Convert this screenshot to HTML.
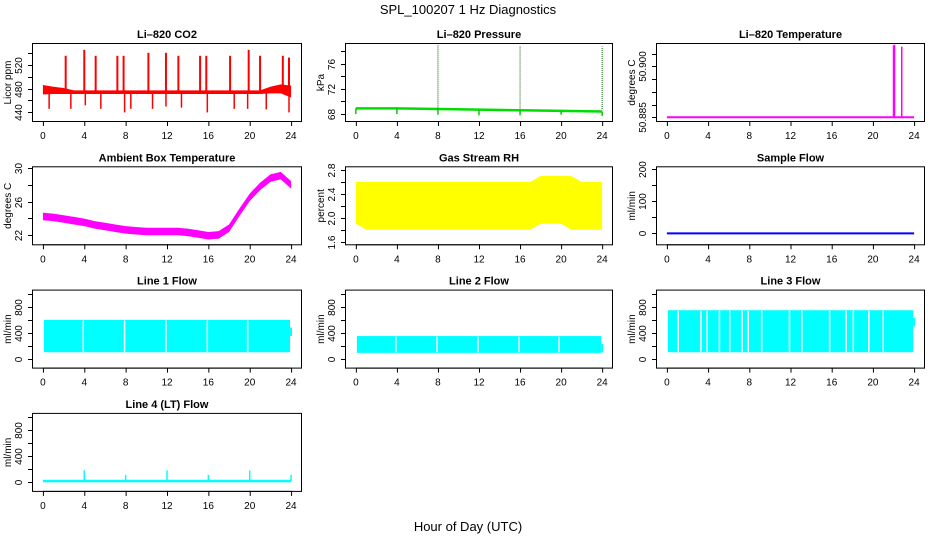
<!DOCTYPE html>
<html><head><meta charset="utf-8">
<style>
html,body{margin:0;padding:0;background:#fff;}
svg{display:block;font-family:"Liberation Sans",Arial,sans-serif;}
</style></head>
<body>
<svg id="fig" width="936" height="540" viewBox="0 0 936 540" xmlns="http://www.w3.org/2000/svg">
<rect x="0" y="0" width="936" height="540" fill="#fff"/>
<text x="468" y="14" font-size="13" text-anchor="middle">SPL_100207  1 Hz Diagnostics</text>
<text x="468" y="531" font-size="13" text-anchor="middle">Hour of Day (UTC)</text>
</svg>
<script>
// ---- data ----
var hours = [0,1,2,3,4,5,6,7,8,9,10,11,12,13,14,15,16,17,18,19,20,21,22,23,24];
var xTicks = [0,4,8,12,16,20,24];
var co2High = [486,483,481,477,477,477,477,477,477,477,477,477,477,477,477,477,477,477,477,477,477,477,483,487,485];
var co2Low  = [470,471,471,471,471,471,471,471,471,471,471,471,471,471,471,471,471,471,471,471,471,471,472,472,465];
var co2UpH = [2.2,4.0,5.1,7.2,7.8,10.2,11.9,13.1,15.2,15.8,18.1,19.9,21.0,23.2,23.8];
var co2UpV = [535,545,535,535,535,540,540,535,535,535,535,545,535,535,532];
var co2DnH = [0.6,2.7,4.1,5.6,7.9,8.5,10.6,11.9,13.4,15.9,18.5,19.8,21.6,23.8];
var co2DnV = [446,446,452,446,440,446,446,450,448,440,446,446,445,440];
var presH = [0,4,8,12,16,20,24];
var presV = [68.9,68.9,68.8,68.7,68.6,68.5,68.4];
var presDip = [68.0,68.0,67.9,67.8,67.8,67.9,67.7];
var presSpikeH = [8,16,24];
var presSpikeV = [79.0,78.8,78.7];
var tempSpikeH = [22.0,22.1,22.8];
var tempSpikeV = [50.9062,50.9064,50.9058];
var tempBase = 50.885;
var ambMid = [24.2,24.1,23.9,23.7,23.5,23.2,23.0,22.8,22.6,22.5,22.4,22.4,22.4,22.4,22.3,22.1,21.9,22.0,22.8,24.7,26.5,27.8,28.8,29.1,28.0];
var rhHigh = [2.6,2.6,2.6,2.6,2.6,2.6,2.6,2.6,2.6,2.6,2.6,2.6,2.6,2.6,2.6,2.6,2.6,2.6,2.7,2.7,2.7,2.7,2.6,2.6,2.6];
var rhLow  = [1.9,1.8,1.8,1.8,1.8,1.8,1.8,1.8,1.8,1.8,1.8,1.8,1.8,1.8,1.8,1.8,1.8,1.8,1.9,1.9,1.9,1.8,1.8,1.8,1.8];
var sampleFlow = 0;
var l1Top = 600, l1Bot = 100, l1Gaps = [3.9,7.9,11.9,15.9,19.8];
var l2Top = 350, l2Bot = 90, l2Gaps = [3.9,7.9,11.9,15.9,19.8];
var l3Top = 750, l3Bot = 100, l3Gaps = [1.1,3.3,3.9,5.1,6.1,7.3,7.9,9.2,11.9,13.1,15.8,17.4,18.1,19.6,21.0];
var l4Base = 15, l4SpikeH = [4,8,12,16,20,24], l4SpikeV = [180,110,180,110,180,110];

var NS = "http://www.w3.org/2000/svg";
var svg = document.getElementById('fig');
function mk(parent, tag, attrs, name){
  var el = document.createElementNS(NS, tag);
  for (var k in attrs) el.setAttribute(k, attrs[k]);
  
  
  parent.appendChild(el);
  return el;
}
var colL = [33, 346, 657], colR = [301, 612, 924];
function panel(c, r, title, ylab, ylim, yticks, ylabels, key){
  var L = colL[c], R = colR[c], T = 44 + r*123.3, B = T + 77;
  var g = document.createElementNS(NS, 'g');
  
  
  svg.appendChild(g);
  var p = {g:g, L:L, R:R, T:T, B:B,
    X:function(h){ return L + (h + 0.96) / 25.92 * (R - L); },
    Y:function(v){ return B - (v - ylim[0]) / (ylim[1] - ylim[0]) * (B - T); }};
  mk(g, 'text', {x:(L+R)/2, y:T-6, 'font-size':11, 'font-weight':'bold', 'text-anchor':'middle'}, key + '-title').textContent = title;
  mk(g, 'line', {x1:p.X(0), x2:p.X(24), y1:B+0.5, y2:B+0.5, stroke:'#000'}, key + '-x-axis');
  xTicks.forEach(function(t){
    mk(g, 'line', {x1:p.X(t)+0.5, x2:p.X(t)+0.5, y1:B, y2:B+5, stroke:'#000'}, key + '-x-tick');
    mk(g, 'text', {x:p.X(t), y:B+18, 'font-size':10, 'text-anchor':'middle'}, key + '-x-tick-label').textContent = String(t);
  });
  mk(g, 'line', {x1:L-0.5, x2:L-0.5, y1:p.Y(yticks[0]), y2:p.Y(yticks[yticks.length-1]), stroke:'#000'}, key + '-y-axis');
  yticks.forEach(function(t, i){
    var y = Math.round(p.Y(t)) + 0.5;
    mk(g, 'line', {x1:L-5, x2:L, y1:y, y2:y, stroke:'#000'}, key + '-y-tick');
    if (ylabels[i]) {
      var tx = mk(g, 'text', {x:0, y:0, 'font-size':10, 'text-anchor':'middle', transform:'translate(' + (L-11) + ',' + y + ') rotate(-90)'}, key + '-y-tick-label');
      tx.textContent = ylabels[i];
    }
  });
  mk(g, 'text', {x:0, y:0, 'font-size':10, 'text-anchor':'middle', transform:'translate(' + (L-22) + ',' + ((T+B)/2) + ') rotate(-90)'}, key + '-y-axis-title').textContent = ylab;
  var cp = mk(g, 'clipPath', {id:'clip-' + key}, key + '-clip');
  mk(cp, 'rect', {x:L, y:T, width:R-L, height:B-T}, key + '-clip-rect');
  p.d = mk(g, 'g', {'clip-path':'url(#clip-' + key + ')'}, key + '-plot-area');
  p.box = function(){ mk(g, 'rect', {x:L-0.5, y:T-0.5, width:R-L+1, height:B-T+1, fill:'none', stroke:'#000'}, key + '-plot-box'); };
  return p;
}
function band(p, hi, lo, color, name){
  var pts = [];
  hours.forEach(function(h, i){ pts.push(p.X(h) + ',' + p.Y(hi[i])); });
  for (var i = hours.length - 1; i >= 0; i--) pts.push(p.X(hours[i]) + ',' + p.Y(lo[i]));
  mk(p.d, 'polygon', {points:pts.join(' '), fill:color}, name);
}
function vline(p, h, v0, v1, color, w, name, dash){
  var a = {x1:p.X(h), x2:p.X(h), y1:p.Y(v0), y2:p.Y(v1), stroke:color, 'stroke-width':w};
  if (dash) a['stroke-dasharray'] = dash;
  mk(p.d, 'line', a, name);
}

var p1 = panel(0, 0, 'Li\u2013820 CO2', 'Licor ppm', [425.6, 554.8], [440,460,480,500,520,540], ['440','','480','','520',''], 'co2');
band(p1, co2High, co2Low, '#ff0000', 'co2-band');
co2UpH.forEach(function(h, i){ vline(p1, h, 474, co2UpV[i], '#ff0000', 2, 'co2-spike-up'); });
co2DnH.forEach(function(h, i){ vline(p1, h, 474, co2DnV[i], '#ff0000', 1.5, 'co2-spike-down'); });
p1.box();

var p2 = panel(1, 0, 'Li\u2013820 Pressure', 'kPa', [66.9, 79.1], [68,70,72,74,76,78], ['68','','72','','76',''], 'pressure');
var pp = presH.map(function(h, i){ return p2.X(h) + ',' + p2.Y(presV[i]); }).join(' ');
mk(p2.d, 'polyline', {points:pp, fill:'none', stroke:'#00dd00', 'stroke-width':2.5}, 'pressure-line');
presH.forEach(function(h, i){ vline(p2, h, presV[i], presDip[i], '#00cc00', 1.5, 'pressure-dip'); });
presSpikeH.forEach(function(h, i){ vline(p2, h, presV[i], presSpikeV[i], '#006600', 1, 'pressure-spike', '1,1'); });
p2.box();

var p3 = panel(2, 0, 'Li\u2013820 Temperature', 'degrees C', [50.8839, 50.9066], [50.885,50.88875,50.8925,50.89625,50.900,50.90375], ['50.885','','','','50.900',''], 'li-temp');
mk(p3.d, 'line', {x1:p3.X(0), x2:p3.X(24), y1:p3.Y(tempBase), y2:p3.Y(tempBase), stroke:'#ff00ff', 'stroke-width':2}, 'li-temp-line');
tempSpikeH.forEach(function(h, i){ vline(p3, h, tempBase, tempSpikeV[i], '#ff00ff', 1.5, 'li-temp-spike'); });
p3.box();

var p4 = panel(0, 1, 'Ambient Box Temperature', 'degrees C', [20.87, 30.1], [22,24,26,28,30], ['22','','26','','30'], 'ambient');
band(p4, ambMid.map(function(v){ return v + 0.45; }), ambMid.map(function(v){ return v - 0.45; }), '#ff00ff', 'ambient-band');
p4.box();

var p5 = panel(1, 1, 'Gas Stream RH', 'percent', [1.556, 2.846], [1.6,1.8,2.0,2.2,2.4,2.6,2.8], ['1.6','','2.0','','2.4','','2.8'], 'rh');
band(p5, rhHigh, rhLow, '#ffff00', 'rh-band');
p5.box();

var p6 = panel(2, 1, 'Sample Flow', 'ml/min', [-34, 206], [0,50,100,150,200], ['0','','100','','200'], 'sample-flow');
mk(p6.d, 'line', {x1:p6.X(0), x2:p6.X(24), y1:p6.Y(sampleFlow), y2:p6.Y(sampleFlow), stroke:'#0000ff', 'stroke-width':2}, 'sample-flow-line');
p6.box();

function flowPanel(c, r, title, key, top, bot, gaps){
  var p = panel(c, r, title, 'ml/min', [-138, 1054], [0,200,400,600,800,1000], ['0','','400','','800',''], key);
  mk(p.d, 'rect', {x:p.X(0.1), y:p.Y(top), width:p.X(23.9)-p.X(0.1), height:p.Y(bot)-p.Y(top), fill:'#00ffff'}, key + '-band');
  gaps.forEach(function(h){ vline(p, h, top - 10, bot + 10, '#ffffff', 1.5, key + '-gap'); });
  vline(p, 24, top - 120, top - 250, '#00ffff', 2, key + '-end');
  p.box();
  return p;
}
flowPanel(0, 2, 'Line 1 Flow', 'line1-flow', l1Top, l1Bot, l1Gaps);
flowPanel(1, 2, 'Line 2 Flow', 'line2-flow', l2Top, l2Bot, l2Gaps);
flowPanel(2, 2, 'Line 3 Flow', 'line3-flow', l3Top, l3Bot, l3Gaps);

var p10 = panel(0, 3, 'Line 4 (LT) Flow', 'ml/min', [-138, 1054], [0,200,400,600,800,1000], ['0','','400','','800',''], 'line4-flow');
mk(p10.d, 'line', {x1:p10.X(0), x2:p10.X(24), y1:p10.Y(l4Base), y2:p10.Y(l4Base), stroke:'#00ffff', 'stroke-width':2.5}, 'line4-flow-line');
l4SpikeH.forEach(function(h, i){ vline(p10, h, l4Base, l4SpikeV[i], '#00ffff', 1.5, 'line4-flow-spike'); });
p10.box();
</script>
</body></html>
